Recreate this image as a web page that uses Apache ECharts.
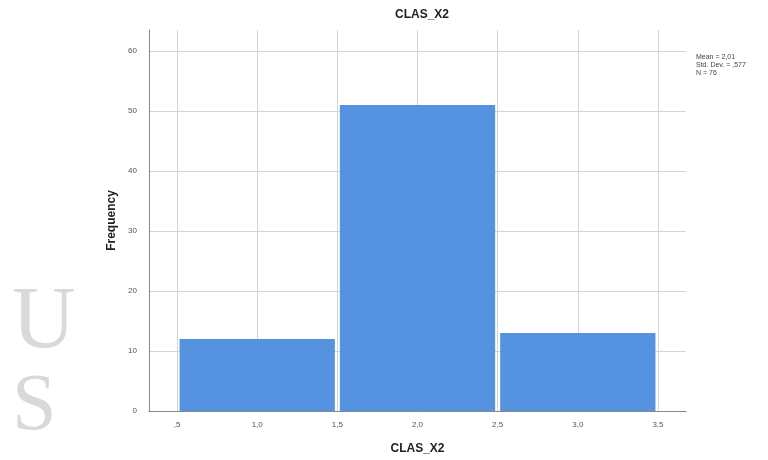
<!DOCTYPE html>
<html>
<head>
<meta charset="utf-8">
<script src="https://cdn.jsdelivr.net/npm/echarts@6/dist/echarts.min.js"></script>
<style>
  html, body { margin: 0; padding: 0; background: #fff; }
  #main { width: 768px; height: 460px; }
</style>
</head>
<body>
<div id="main"></div>
<script>
// histogram bins of CLAS_X2
var binStart = [0.5, 1.5, 2.5];
var binEnd = [1.5, 2.5, 3.5];
var counts = [12, 51, 13];
var xTicks = [0.5, 1.0, 1.5, 2.0, 2.5, 3.0, 3.5];
var yTicks = [0, 10, 20, 30, 40, 50, 60];
var statLines = ['Mean = 2,01', 'Std. Dev. = ,577', 'N = 76'];

var bins = binStart.map(function (s, i) { return [s, binEnd[i], counts[i]]; });

function fmt(v) {
  var s = v.toFixed(1).replace('.', ',');
  return s.charAt(0) === '0' ? s.slice(1) : s;
}

var myChart = echarts.init(document.getElementById('main'));

var option = {
  animation: false,
  backgroundColor: '#fff',
  textStyle: { fontFamily: 'Liberation Sans, Arial, sans-serif' },
  title: {
    text: 'CLAS_X2',
    left: 417,
    textAlign: 'center',
    top: 4,
    textStyle: { fontSize: 12, fontWeight: 'bold', color: '#222' }
  },
  grid: { left: 149, right: 82, top: 30, bottom: 47 },
  xAxis: {
    type: 'value',
    min: 0.325,
    max: 3.675,
    name: 'CLAS_X2',
    nameLocation: 'middle',
    nameGap: 32,
    nameTextStyle: { fontSize: 12, fontWeight: 'bold', color: '#222' },
    axisLine: { lineStyle: { color: '#888' } },
    axisTick: { show: false, customValues: xTicks },
    axisLabel: { customValues: xTicks, formatter: fmt, fontSize: 8, color: '#555', margin: 10 },
    splitLine: { show: true, lineStyle: { color: '#d4d4d4' } }
  },
  yAxis: {
    type: 'value',
    min: 0,
    max: 63.5,
    name: 'Frequency',
    nameLocation: 'middle',
    nameGap: 30,
    nameTextStyle: { fontSize: 12, fontWeight: 'bold', color: '#222' },
    axisLine: { show: true, lineStyle: { color: '#888' } },
    axisTick: { show: false, customValues: yTicks },
    axisLabel: { customValues: yTicks, fontSize: 8, color: '#555', margin: 12 },
    splitLine: { show: true, lineStyle: { color: '#d4d4d4' } }
  },
  series: [{
    type: 'custom',
    data: bins,
    renderItem: function (params, api) {
      var p0 = api.coord([api.value(0), api.value(2)]);
      var p1 = api.coord([api.value(1), 0]);
      return {
        type: 'rect',
        shape: { x: p0[0] + 2.5, y: p0[1], width: p1[0] - p0[0] - 5, height: p1[1] - p0[1] },
        style: { fill: '#5592e0' }
      };
    },
    encode: { x: [0, 1], y: 2 }
  }],
  graphic: [
    {
      type: 'text', left: 696, top: 53,
      style: { text: statLines.join('\n'), fontSize: 7, lineHeight: 8, fill: '#444' }
    },
    {
      type: 'text', left: 12, top: 280,
      style: { text: 'U', fontSize: 88, fontFamily: 'Liberation Serif, serif', fill: '#d9d9d9' }
    },
    {
      type: 'text', left: 12, top: 368,
      style: { text: 'S', fontSize: 80, fontFamily: 'Liberation Serif, serif', fill: '#d9d9d9' }
    }
  ]
};

myChart.setOption(option);
</script>
</body>
</html>
